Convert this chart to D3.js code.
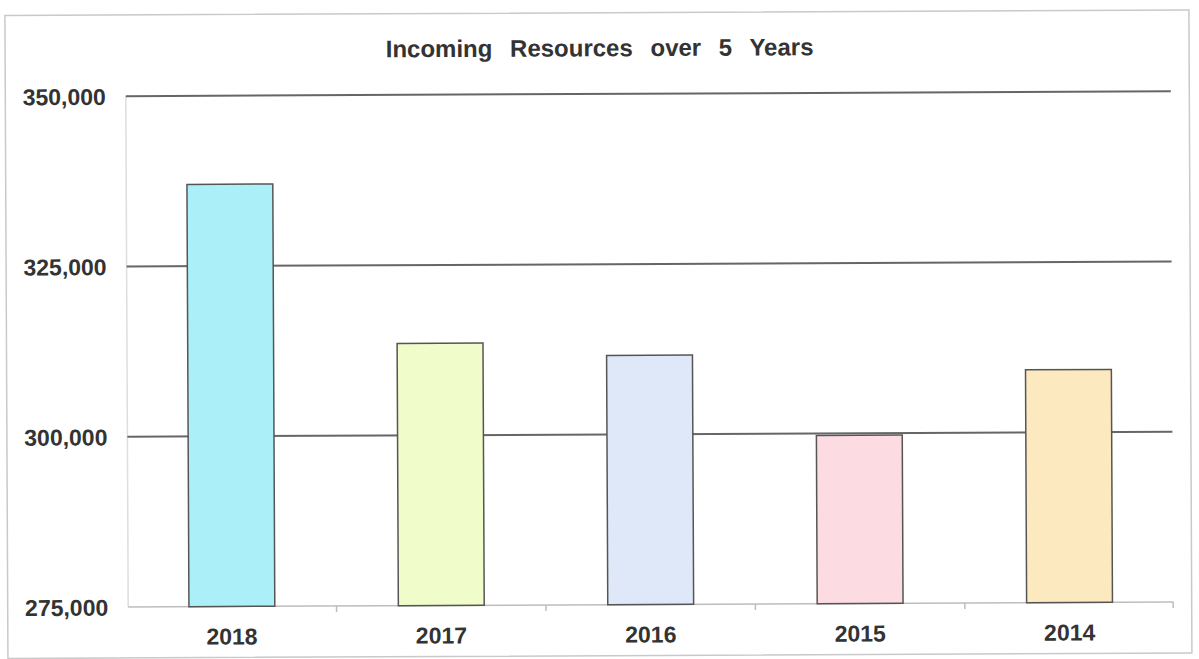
<!DOCTYPE html>
<html>
<head>
<meta charset="utf-8">
<script src="https://cdn.jsdelivr.net/npm/d3@7"></script>
<style>
  body { margin: 0; background: #fff; }
  svg text { font-family: "Liberation Sans", Arial, sans-serif; font-weight: bold; fill: #333; }
</style>
</head>
<body>
<div class="canvas"></div>
<script>
const years = ["2018", "2017", "2016", "2015", "2014"];
const incoming = [337000, 313500, 311600, 299700, 309200];
const barColours = ["#abf0f8", "#f0fcc9", "#dfe8f9", "#fcdbe2", "#fde9bf"];
const yTicks = [275000, 300000, 325000, 350000];
const chartTitle = "Incoming Resources over 5 Years";

const width = 1199;
const height = 659;

const svg = d3.select(".canvas")
    .append("svg")
    .attr("width", width)
    .attr("height", height);

// the scan is tilted a little, so tilt the whole page the same way
const page = svg.append("g")
    .attr("transform", "rotate(-0.27, 650, 350)");

page.append("rect")
    .attr("x", 6.5)
    .attr("y", 12.5)
    .attr("width", 1184)
    .attr("height", 643)
    .attr("fill", "none")
    .attr("stroke", "#c9c9c9")
    .attr("stroke-width", 1.5);

const margin = { top: 93.7, right: 27, bottom: 54.5, left: 127 };
const graphWidth = width - margin.left - margin.right;
const graphHeight = height - margin.top - margin.bottom;

const graph = page.append("g")
    .attr("transform", `translate(${margin.left}, ${margin.top})`);

const y = d3.scaleLinear()
    .domain([275000, 350000])
    .range([graphHeight, 0]);

const x = d3.scaleBand()
    .domain(years)
    .range([0, graphWidth])
    .paddingInner(0.59)
    .paddingOuter(0.29);

// faint left axis line
graph.append("line")
    .attr("x1", 0).attr("x2", 0)
    .attr("y1", 0).attr("y2", graphHeight)
    .attr("stroke", "#dedede")
    .attr("stroke-width", 1.5);

// gridlines (not the baseline)
graph.selectAll(".grid")
    .data(yTicks.filter(d => d > 275000))
    .enter()
    .append("line")
    .attr("class", "grid")
    .attr("x1", 0)
    .attr("x2", graphWidth)
    .attr("y1", d => y(d))
    .attr("y2", d => y(d))
    .attr("stroke", "#666")
    .attr("stroke-width", 2);

// bottom axis with ticks on the band edges
const xAxisGroup = graph.append("g")
    .attr("transform", `translate(0, ${graphHeight})`);
xAxisGroup.append("line")
    .attr("x1", 0).attr("x2", graphWidth)
    .attr("stroke", "#bdbdbd")
    .attr("stroke-width", 1.5);
const edges = years.map(d => x(d) - x.step() * x.paddingInner() / 2).slice(1).concat([graphWidth]);
xAxisGroup.selectAll(".edge")
    .data(edges)
    .enter()
    .append("line")
    .attr("x1", d => d).attr("x2", d => d)
    .attr("y1", 0).attr("y2", 6)
    .attr("stroke", "#bdbdbd")
    .attr("stroke-width", 1.5);

xAxisGroup.selectAll(".xlab")
    .data(years)
    .enter()
    .append("text")
    .attr("x", d => x(d) + x.bandwidth() / 2)
    .attr("y", 38)
    .attr("text-anchor", "middle")
    .style("font-size", "23px")
    .text(d => d);

// y labels
const yAxis = d3.axisLeft(y)
    .tickValues(yTicks)
    .tickSize(0)
    .tickPadding(20)
    .tickFormat(d3.format(","));
const yAxisGroup = graph.append("g").call(yAxis);
yAxisGroup.select(".domain").remove();
yAxisGroup.selectAll("text")
    .attr("fill", "#333")
    .style("font-size", "23px")
    .attr("dy", "0.35em");

// bars
graph.selectAll("rect.bar")
    .data(incoming)
    .enter()
    .append("rect")
    .attr("class", "bar")
    .attr("x", (d, i) => x(years[i]))
    .attr("y", d => y(d))
    .attr("width", x.bandwidth())
    .attr("height", d => graphHeight - y(d))
    .attr("fill", (d, i) => barColours[i])
    .attr("stroke", "#555")
    .attr("stroke-width", 1.5);

page.append("text")
    .attr("x", 601)
    .attr("y", 56)
    .attr("text-anchor", "middle")
    .style("font-size", "24px")
    .style("word-spacing", "11px")
    .text(chartTitle);
</script>
</body>
</html>
